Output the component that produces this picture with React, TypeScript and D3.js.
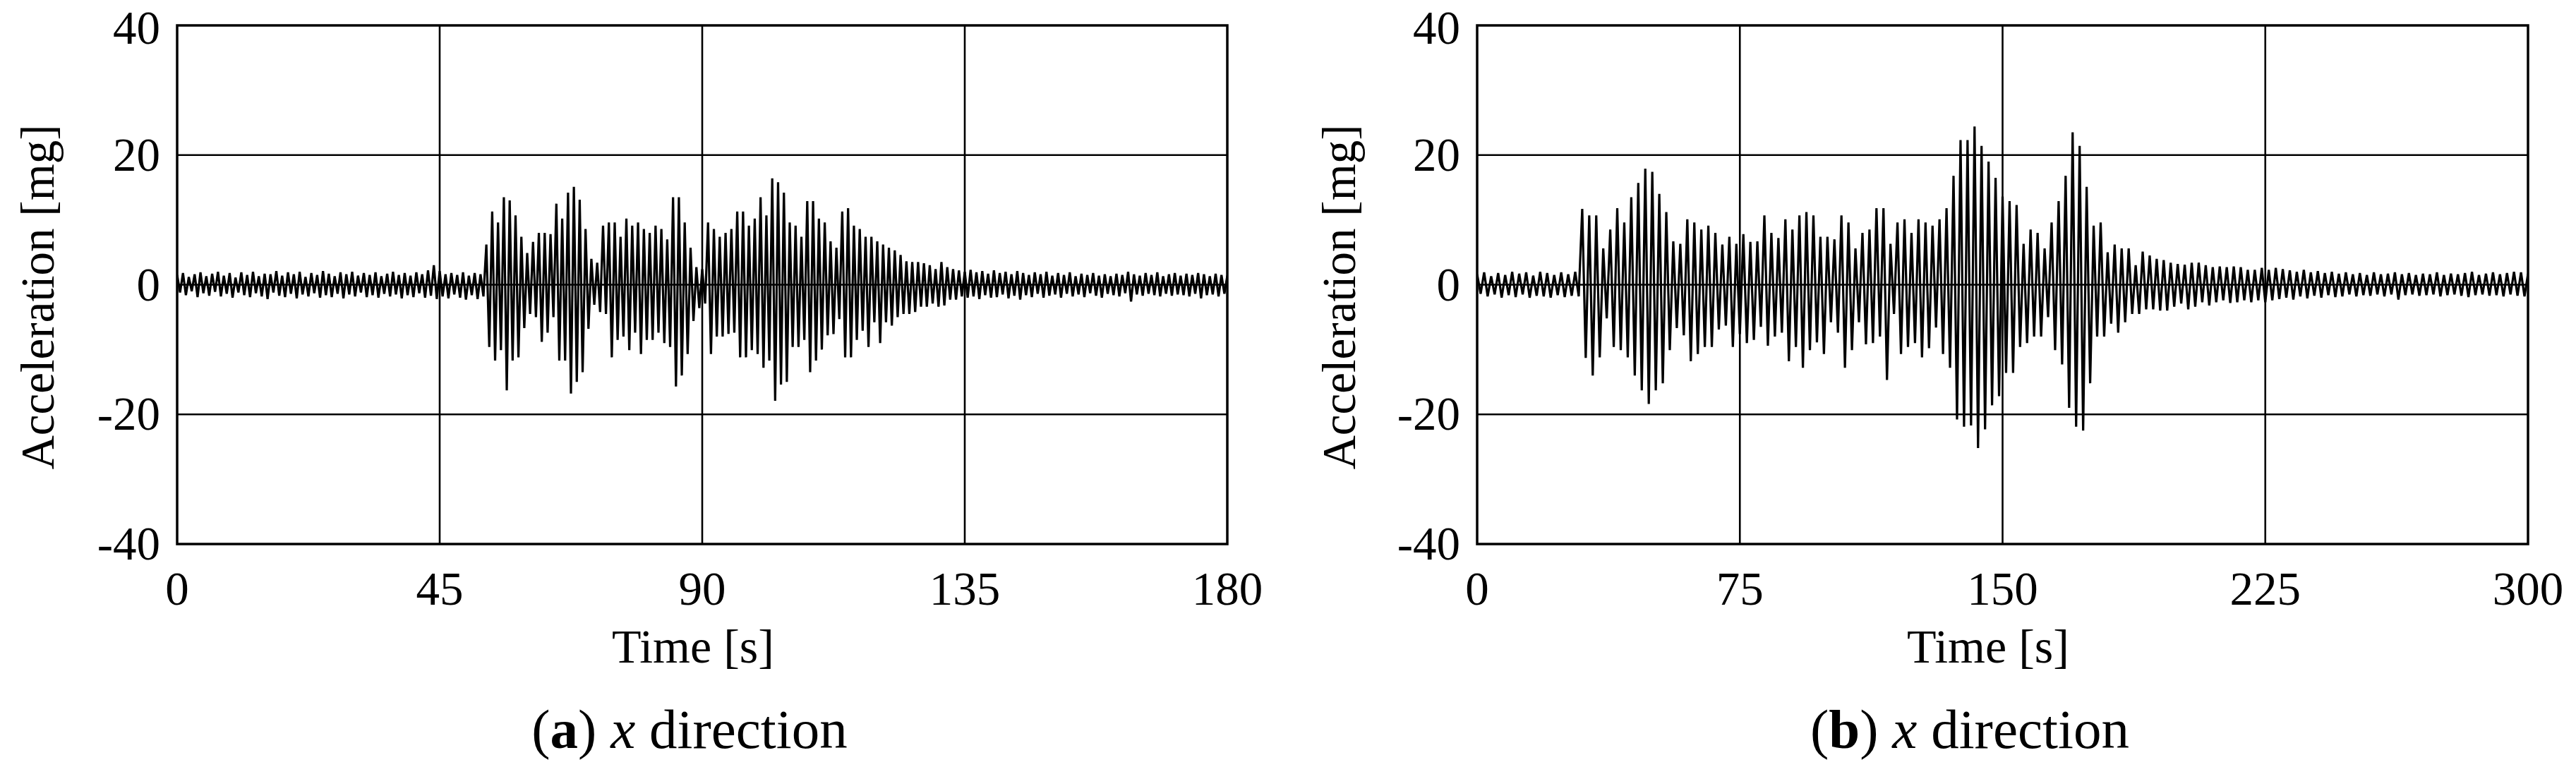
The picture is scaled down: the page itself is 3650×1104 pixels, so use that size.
import React from 'react';
import * as d3 from 'd3';

// ---- axis ticks ----
const yTicks = [-40, -20, 0, 20, 40];
const leftXTicks = [0, 45, 90, 135, 180];
const rightXTicks = [0, 75, 150, 225, 300];

// ---- panel (a): envelope per 1 s sample (upper peak, lower peak) ----
const leftStep = 1;
const leftUpper = [
  1.5, 1.8, 1.2, 1.6, 1.9, 1.3, 1.7, 2.0, 1.4, 1.8,
  1.1, 1.9, 1.5, 2.0, 1.3, 1.7, 1.6, 2.1, 1.4, 1.9,
  1.6, 2.0, 1.2, 1.8, 1.5, 2.1, 1.7, 1.3, 1.9, 1.6,
  2.0, 1.4, 1.8, 1.5, 1.9, 1.3, 1.7, 2.0, 1.5, 1.8,
  1.4, 1.9, 1.6, 2.2, 3.0, 2.1, 1.6, 1.8, 1.5, 1.9,
  1.4, 1.8, 1.6, 6.2, 11.3, 9.6, 13.5, 13.0, 10.7, 7.4,
  4.9, 6.6, 8.0, 8.0, 7.8, 12.5, 10.2, 14.2, 15.1, 13.1,
  8.6, 4.0, 3.4, 9.1, 9.6, 9.6, 7.4, 10.2, 9.1, 9.6,
  8.6, 8.0, 9.1, 8.6, 7.0, 13.5, 13.5, 9.6, 5.7, 2.7,
  2.4, 9.6, 8.6, 7.4, 8.0, 8.6, 11.3, 11.3, 9.1, 10.2,
  13.5, 10.7, 16.4, 15.8, 14.2, 9.6, 9.1, 7.4, 12.9, 12.9,
  10.2, 9.6, 6.7, 5.7, 11.3, 11.8, 9.1, 8.6, 7.4, 7.4,
  6.7, 6.2, 5.7, 5.3, 4.6, 3.6, 3.5, 3.5, 3.3, 3.0,
  2.4, 3.5, 2.7, 2.4, 2.2, 2.0, 2.3, 1.9, 2.1, 1.7,
  2.2, 1.8, 2.0, 1.6, 2.1, 1.8, 1.5, 1.9, 1.6, 2.0,
  1.4, 1.8, 1.5, 1.9, 1.3, 1.7, 1.5, 1.8, 1.4, 1.6,
  1.3, 1.7, 1.5, 2.0, 1.6, 1.4, 1.8, 1.5, 1.9, 1.3,
  1.6, 1.8, 1.4, 1.7, 1.5, 1.8, 1.6, 1.3, 1.7, 1.5,
  1.4,
];
const leftLower = [
  -1.2, -1.6, -1.0, -1.9, -1.3, -1.7, -1.1, -1.8, -1.4, -2.0,
  -1.2, -1.6, -1.9, -1.3, -1.8, -2.2, -1.2, -1.7, -1.9, -1.4,
  -2.1, -1.5, -1.8, -1.3, -2.0, -1.6, -1.9, -1.4, -2.1, -1.5,
  -1.8, -1.2, -1.9, -1.6, -2.0, -1.4, -1.8, -1.5, -2.1, -1.6,
  -1.9, -1.3, -2.0, -1.7, -2.2, -1.8, -2.1, -1.5, -2.0, -2.3,
  -1.6, -2.2, -1.8, -9.6, -11.7, -10.1, -16.3, -11.7, -11.2, -6.7,
  -4.5, -5.0, -8.8, -7.4, -5.0, -11.7, -11.7, -16.8, -15.0, -13.5,
  -6.8, -3.1, -4.2, -4.5, -11.2, -8.5, -8.0, -10.1, -7.4, -10.7,
  -8.5, -8.5, -7.4, -9.0, -9.6, -15.7, -14.0, -10.7, -5.6, -3.6,
  -2.9, -10.7, -8.0, -8.0, -7.6, -7.4, -11.2, -11.2, -10.1, -10.7,
  -12.8, -11.7, -17.9, -15.4, -15.0, -9.6, -9.6, -8.5, -13.5, -11.7,
  -10.0, -7.8, -7.6, -5.3, -11.2, -11.2, -8.5, -7.1, -9.6, -5.8,
  -9.0, -5.8, -6.3, -5.0, -4.5, -4.5, -4.2, -3.4, -3.4, -2.9,
  -3.4, -3.2, -2.3, -2.3, -1.8, -2.0, -1.8, -2.2, -1.6, -2.0,
  -1.9, -1.5, -2.1, -1.7, -2.3, -1.6, -1.9, -1.4, -2.0, -1.7,
  -1.5, -2.0, -1.4, -1.8, -1.5, -1.9, -1.3, -1.7, -2.0, -1.4,
  -1.6, -1.8, -1.3, -2.6, -1.5, -1.7, -1.4, -1.6, -1.8, -1.4,
  -1.7, -1.5, -1.6, -1.8, -1.4, -2.1, -1.6, -1.5, -1.8, -1.4,
  -1.5,
];

// ---- panel (b): envelope per 2 s sample ----
const rightStep = 2;
const rightUpper = [
  1.6, 1.9, 1.3, 1.8, 1.5, 2.0, 1.7, 1.9, 1.4, 2.0,
  1.8, 1.5, 1.9, 1.6, 2.0, 11.7, 10.7, 10.7, 5.6, 8.5,
  11.8, 9.6, 13.5, 15.7, 17.9, 17.4, 14.0, 11.2, 6.7, 6.3,
  10.1, 9.6, 8.5, 9.1, 8.0, 6.2, 7.4, 6.3, 7.8, 6.6,
  6.7, 10.7, 8.0, 7.2, 10.1, 8.5, 10.7, 11.2, 10.7, 7.4,
  7.4, 7.0, 10.7, 9.6, 5.6, 8.0, 8.5, 11.8, 11.8, 6.3,
  9.6, 10.1, 8.0, 10.1, 9.6, 9.1, 10.1, 11.8, 16.8, 22.3,
  22.3, 24.4, 21.4, 19.0, 16.5, 13.6, 12.9, 12.3, 6.3, 8.5,
  8.0, 5.6, 9.6, 12.9, 16.8, 23.5, 21.4, 15.1, 9.1, 9.6,
  5.0, 6.2, 5.6, 5.6, 3.0, 5.1, 4.5, 4.0, 3.8, 3.4,
  3.2, 3.1, 3.4, 3.4, 3.0, 2.7, 2.8, 2.7, 2.8, 2.7,
  2.3, 2.3, 2.6, 2.3, 2.6, 2.4, 2.2, 2.0, 2.3, 1.9,
  2.1, 1.8, 2.0, 1.7, 1.9, 1.6, 1.8, 1.5, 1.9, 1.6,
  1.7, 1.9, 1.6, 1.8, 1.5, 1.7, 1.6, 1.9, 1.5, 1.7,
  1.6, 1.8, 2.0, 1.5, 1.7, 1.9, 1.6, 1.8, 2.0, 1.9,
  1.7,
];
const rightLower = [
  -1.4, -1.8, -1.5, -2.0, -1.6, -1.9, -1.5, -2.0, -1.7, -1.8,
  -2.0, -1.6, -1.9, -1.7, -1.8, -11.3, -14.0, -11.2, -5.2, -9.6,
  -10.1, -11.2, -14.0, -16.3, -18.4, -16.3, -15.2, -10.1, -6.7, -7.8,
  -11.8, -10.7, -9.6, -9.6, -6.9, -6.3, -9.6, -7.6, -9.0, -8.5,
  -6.5, -9.4, -8.0, -7.4, -11.8, -9.6, -12.8, -10.1, -8.9, -10.7,
  -5.8, -7.4, -12.8, -10.1, -5.8, -9.2, -9.0, -8.0, -14.7, -4.5,
  -10.7, -9.6, -9.0, -11.2, -9.8, -6.6, -10.7, -12.8, -20.8, -21.9,
  -21.7, -25.2, -22.3, -18.6, -17.2, -13.6, -13.6, -9.6, -9.0, -8.0,
  -8.0, -5.0, -10.1, -12.3, -19.0, -21.9, -22.5, -15.2, -8.0, -8.0,
  -6.0, -7.4, -5.8, -4.5, -4.5, -3.8, -3.8, -4.0, -4.0, -3.4,
  -2.9, -3.8, -3.4, -2.7, -3.2, -2.7, -2.4, -2.8, -2.7, -2.4,
  -2.7, -2.4, -2.7, -2.4, -2.2, -2.0, -2.3, -1.8, -2.1, -1.7,
  -2.0, -1.6, -1.9, -1.8, -1.5, -1.8, -1.6, -1.7, -1.5, -1.8,
  -1.5, -2.3, -1.6, -1.5, -1.7, -1.6, -1.5, -1.8, -1.6, -1.5,
  -1.7, -1.9, -1.6, -1.5, -1.7, -1.6, -1.8, -1.5, -1.7, -1.8,
  -1.6,
];

// ---- layout ----
const W = 3650;
const H = 1104;
const TOP = 36;
const BOTTOM = 771;
const FONT = '"Liberation Serif", "Times New Roman", serif';

type PanelProps = {
  id: string;
  left: number;
  right: number;
  xMax: number;
  xTicks: number[];
  upper: number[];
  lower: number[];
  step: number;
  letter: string;
  captionX: number;
  timeX: number;
  yLabelX: number;
};

function Panel(p: PanelProps) {
  const x = d3.scaleLinear().domain([0, p.xMax]).range([p.left, p.right]);
  const y = d3.scaleLinear().domain([-40, 40]).range([BOTTOM, TOP]);
  const pts: [number, number][] = [];
  p.upper.forEach((u, i) => {
    pts.push([i * p.step, u]);
    pts.push([i * p.step + p.step / 2, p.lower[i]]);
  });
  const line = d3
    .line<[number, number]>()
    .x((d) => x(d[0]))
    .y((d) => y(d[1]));
  const innerX = p.xTicks.slice(1, -1);
  const innerY = yTicks.slice(1, -1);
  return (
    <g>
      <defs>
        <clipPath id={p.id}>
          <rect x={p.left} y={TOP} width={p.right - p.left} height={BOTTOM - TOP} />
        </clipPath>
      </defs>
      {innerY.map((v) => (
        <line key={'gy' + v} x1={p.left} x2={p.right} y1={y(v)} y2={y(v)} stroke="#000" strokeWidth={2.6} />
      ))}
      {innerX.map((v) => (
        <line key={'gx' + v} x1={x(v)} x2={x(v)} y1={TOP} y2={BOTTOM} stroke="#000" strokeWidth={2.6} />
      ))}
      <path
        d={line(pts) || ''}
        clipPath={`url(#${p.id})`}
        fill="none"
        stroke="#000"
        strokeWidth={3.2}
        strokeLinejoin="bevel"
      />
      <rect
        x={p.left}
        y={TOP}
        width={p.right - p.left}
        height={BOTTOM - TOP}
        fill="none"
        stroke="#000"
        strokeWidth={3.5}
      />
      {yTicks.map((v) => (
        <text
          key={'yl' + v}
          x={p.left - 24}
          y={Math.max(y(v) + 22, 62)}
          textAnchor="end"
          fontSize={67}
          fontFamily={FONT}
        >
          {v}
        </text>
      ))}
      {p.xTicks.map((v) => (
        <text key={'xl' + v} x={x(v)} y={857} textAnchor="middle" fontSize={67} fontFamily={FONT}>
          {v}
        </text>
      ))}
      <text x={p.timeX} y={939} textAnchor="middle" fontSize={68} fontFamily={FONT}>
        Time [s]
      </text>
      <text
        transform={`translate(${p.yLabelX},421) rotate(-90)`}
        textAnchor="middle"
        fontSize={67}
        fontFamily={FONT}
      >
        Acceleration [mg]
      </text>
      <text x={p.captionX} y={1060} textAnchor="middle" fontSize={79} fontFamily={FONT}>
        <tspan>(</tspan>
        <tspan fontWeight="bold">{p.letter}</tspan>
        <tspan>) </tspan>
        <tspan fontStyle="italic">x</tspan>
        <tspan> direction</tspan>
      </text>
    </g>
  );
}

export default function App() {
  return (
    <div>
      <style>{`html,body{margin:0;padding:0;overflow:hidden;background:#fff}`}</style>
      <svg width={W} height={H} viewBox={`0 0 ${W} ${H}`} style={{ display: 'block' }}>
        <rect x={0} y={0} width={W} height={H} fill="#fff" />
        <Panel
          id="clipA"
          left={251}
          right={1739}
          xMax={180}
          xTicks={leftXTicks}
          upper={leftUpper}
          lower={leftLower}
          step={leftStep}
          letter="a"
          captionX={977}
          timeX={982}
          yLabelX={76}
        />
        <Panel
          id="clipB"
          left={2093}
          right={3582}
          xMax={300}
          xTicks={rightXTicks}
          upper={rightUpper}
          lower={rightLower}
          step={rightStep}
          letter="b"
          captionX={2791}
          timeX={2817}
          yLabelX={1920}
        />
      </svg>
    </div>
  );
}
